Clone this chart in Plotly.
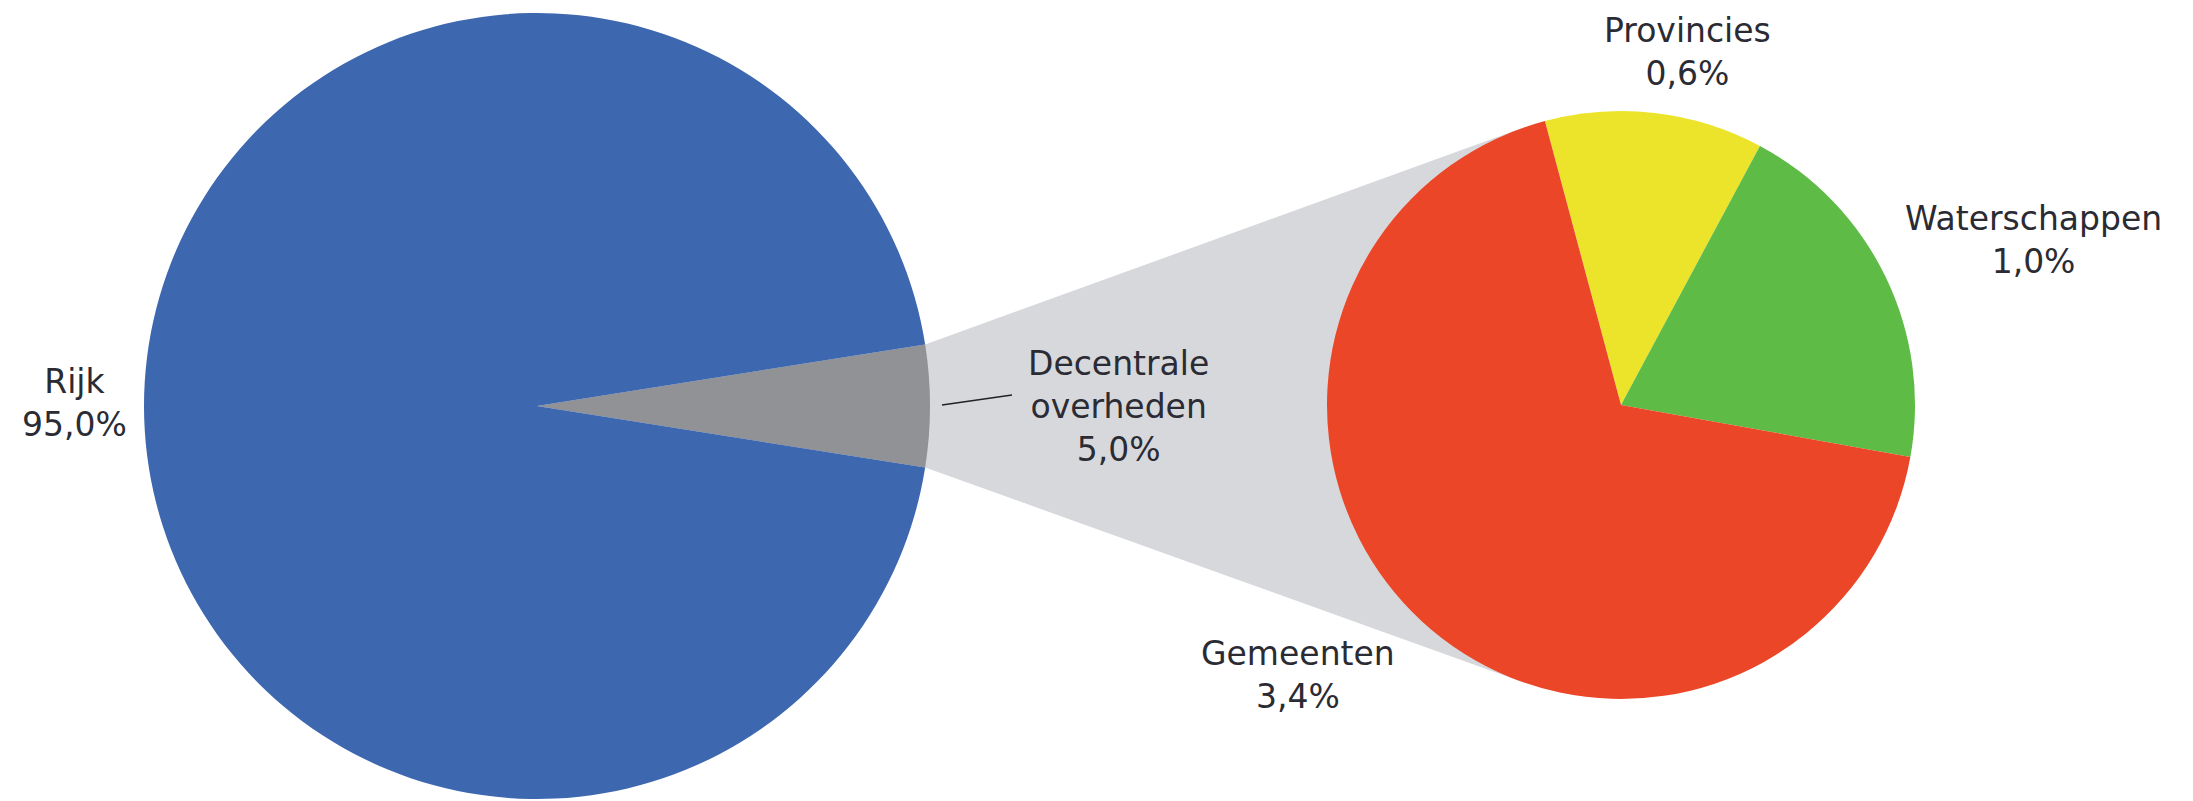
import math
import plotly.graph_objects as go

# ---------------- data ----------------
main_labels = ["Decentrale overheden", "Rijk"]
main_values = [5.0, 95.0]
main_colors = ["#909296", "#3D67AF"]

sub_labels = ["Provincies", "Waterschappen", "Gemeenten"]
sub_values = [0.6, 1.0, 3.4]
sub_colors = ["#ECE42A", "#5EBB46", "#EC4628"]

# ---------------- layout geometry (screen pixels) ----------------
W, H = 2193, 801
PAGE_MARGIN = 8  # default <body> margin of the html page
L_CX, L_CY, L_R = 537, 406, 393
R_CX, R_CY, R_R = 1621, 405, 294


def px(x):
    return (x - PAGE_MARGIN) / W


def py(y):
    return 1 - (y - PAGE_MARGIN) / H


def fmt(v):
    return f"{v:.1f}%".replace(".", ",")


main_total = sum(main_values)
dec_share = main_values[0] / main_total
half_angle = dec_share * 360 / 2  # degrees
main_rotation = 90 - half_angle

fig = go.Figure()

fig.add_trace(go.Pie(
    labels=main_labels, values=main_values, sort=False, direction="clockwise",
    rotation=main_rotation, textinfo="none", hoverinfo="label+percent",
    marker=dict(colors=main_colors, line=dict(width=0)),
    domain=dict(x=[px(L_CX - L_R), px(L_CX + L_R)], y=[py(L_CY + L_R), py(L_CY - L_R)]),
    showlegend=False,
))

fig.add_trace(go.Pie(
    labels=sub_labels, values=sub_values, sort=False, direction="clockwise",
    rotation=-15, textinfo="none", hoverinfo="label+value",
    marker=dict(colors=sub_colors, line=dict(width=0)),
    domain=dict(x=[px(R_CX - R_R), px(R_CX + R_R)], y=[py(R_CY + R_R), py(R_CY - R_R)]),
    showlegend=False,
))

# connector polygon: tangent lines from wedge corners to the sub pie
ha = math.radians(half_angle)
p_top = (L_CX + L_R * math.cos(ha), L_CY - L_R * math.sin(ha))
p_bot = (L_CX + L_R * math.cos(ha), L_CY + L_R * math.sin(ha))


def tangent_point(p, upper):
    dx, dy = R_CX - p[0], R_CY - p[1]
    d = math.hypot(dx, dy)
    base = math.atan2(dy, dx)
    off = math.asin(R_R / d)
    ang = base - off if upper else base + off
    t = math.sqrt(d * d - R_R * R_R)
    return (p[0] + t * math.cos(ang), p[1] + t * math.sin(ang))


t_top = tangent_point(p_top, True)
t_bot = tangent_point(p_bot, False)
pts = [p_top, t_top, (R_CX, R_CY), t_bot, p_bot, (L_CX, L_CY)]
path = "M " + " L ".join(f"{px(x):.5f},{py(y):.5f}" for x, y in pts) + " Z"
fig.add_shape(type="path", path=path, xref="paper", yref="paper",
              fillcolor="#D7D8DC", line=dict(width=0), layer="below")

# leader line for the wedge label
fig.add_shape(type="line", xref="paper", yref="paper",
              x0=px(L_CX + L_R + 12), y0=py(L_CY - 1),
              x1=px(L_CX + L_R + 82), y1=py(L_CY - 11),
              line=dict(color="#222222", width=1.5))

font = dict(family="DejaVu Sans", size=33, color="#2B2B33")
label_pos = {
    "Rijk": (74, 403),
    "Decentrale overheden": (1118, 406),
    "Provincies": (1687, 52),
    "Waterschappen": (2033, 240),
    "Gemeenten": (1298, 675),
}
for lab, val in list(zip(main_labels, main_values)) + list(zip(sub_labels, sub_values)):
    x, y = label_pos[lab]
    fig.add_annotation(x=px(x), y=py(y), xref="paper", yref="paper",
                       text=lab.replace(" ", "<br>") + "<br>" + fmt(val),
                       showarrow=False, font=font, align="center",
                       xanchor="center", yanchor="middle")

fig.update_layout(width=W, height=H, margin=dict(l=0, r=0, t=0, b=0),
                  paper_bgcolor="white", plot_bgcolor="white")

fig.write_html("out.html")
